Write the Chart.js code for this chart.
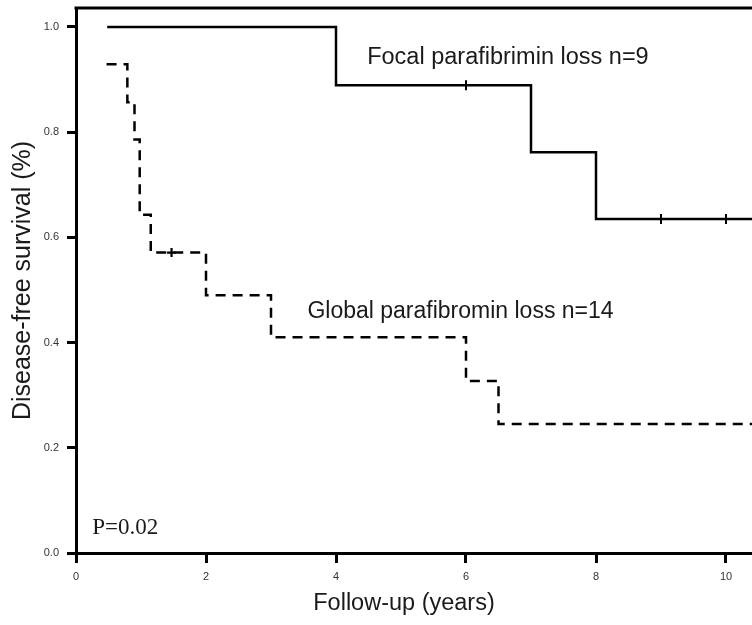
<!DOCTYPE html>
<html>
<head>
<meta charset="utf-8">
<title>Disease-free survival</title>
<script src="https://cdn.jsdelivr.net/npm/chart.js@4.4.1/dist/chart.umd.min.js"></script>
<style>
    html, body { margin: 0; padding: 0; background: #fff; }
    #wrap { width: 752px; height: 625px; }
</style>
</head>
<body>
<div id="wrap"><canvas id="kmChart" width="752" height="625"></canvas></div>
<script>
// Kaplan-Meier steps (years, survival fraction)
const focalTime = [0.48, 4, 7, 8, 10.4];
const focalSurv = [1.0, 0.889, 0.762, 0.635, 0.635];
const focalCensorTime = [6, 9, 10];
const focalCensorSurv = [0.889, 0.635, 0.635];

const globalTime = [0.47, 0.79, 0.9, 0.98, 1.15, 2.0, 3.0, 6.0, 6.5, 10.4];
const globalSurv = [0.929, 0.857, 0.786, 0.643, 0.571, 0.49, 0.41, 0.327, 0.245, 0.245];
const globalCensorTime = [1.47];
const globalCensorSurv = [0.571];

const xTicks = [0, 2, 4, 6, 8, 10];
const yTicks = [0, 0.2, 0.4, 0.6, 0.8, 1.0];

const focalLabel = 'Focal parafibrimin loss n=9';
const globalLabel = 'Global parafibromin loss n=14';
const pLabel = 'P=0.02';
const xTitle = 'Follow-up (years)';
const yTitle = 'Disease-free survival (%)';

const SANS = '"Liberation Sans", Arial, sans-serif';
const SERIF = '"Liberation Serif", "Times New Roman", serif';

function toPoints(xs, ys) {
    return xs.map((x, i) => ({ x: x, y: ys[i] }));
}

// top frame line, curve labels, P value and x title
const annotations = {
    id: 'annotations',
    afterDraw(chart) {
        const { ctx, chartArea, scales } = chart;
        const x = scales.x, y = scales.y;
        ctx.save();
        ctx.strokeStyle = '#000';
        ctx.lineWidth = 3;
        ctx.beginPath();
        ctx.moveTo(chartArea.left - 1.5, chartArea.top);
        ctx.lineTo(chartArea.right, chartArea.top);
        ctx.stroke();

        ctx.fillStyle = '#1a1a1a';
        ctx.textBaseline = 'alphabetic';
        ctx.textAlign = 'left';
        ctx.font = '23.5px ' + SANS;
        ctx.fillText(focalLabel, x.getPixelForValue(4.48), y.getPixelForValue(0.929));
        ctx.font = '23px ' + SANS;
        ctx.fillText(globalLabel, x.getPixelForValue(3.56), y.getPixelForValue(0.446));
        ctx.font = '23px ' + SERIF;
        ctx.fillText(pLabel, x.getPixelForValue(0.25), y.getPixelForValue(0.036));

        ctx.font = '23.5px ' + SANS;
        ctx.textAlign = 'center';
        ctx.textBaseline = 'middle';
        ctx.fillText(xTitle, 404, 604);
        ctx.restore();
    }
};

const ctx = document.getElementById('kmChart');
new Chart(ctx, {
    type: 'line',
    data: {
        datasets: [
            {
                label: 'Focal',
                data: toPoints(focalTime, focalSurv),
                stepped: true,
                borderColor: '#000',
                borderWidth: 2.5,
                pointRadius: 0,
                fill: false
            },
            {
                label: 'Global',
                data: toPoints(globalTime, globalSurv),
                stepped: true,
                borderColor: '#000',
                borderWidth: 2.5,
                borderDash: [10, 7],
                pointRadius: 0,
                fill: false
            },
            {
                label: 'Focal censored',
                type: 'scatter',
                data: toPoints(focalCensorTime, focalCensorSurv),
                pointStyle: 'line',
                rotation: 90,
                pointRadius: 5,
                borderColor: '#000',
                pointBorderWidth: 2,
                showLine: false
            },
            {
                label: 'Global censored',
                type: 'scatter',
                data: toPoints(globalCensorTime, globalCensorSurv),
                pointStyle: 'cross',
                pointRadius: 4.5,
                borderColor: '#000',
                pointBorderWidth: 2.2,
                showLine: false
            }
        ]
    },
    options: {
        responsive: false,
        animation: false,
        layout: { autoPadding: false, padding: { top: 8, right: 0, left: 0, bottom: 0 } },
        plugins: {
            legend: { display: false },
            tooltip: { enabled: false }
        },
        scales: {
            x: {
                type: 'linear',
                min: 0,
                max: 10.4,
                afterFit: s => {
                    s.height = 72;
                    s.paddingLeft = 0;
                    s.paddingRight = 0;
                },
                afterBuildTicks: s => { s.ticks = xTicks.map(v => ({ value: v })); },
                grid: { drawOnChartArea: false, tickLength: 10, tickWidth: 3, tickColor: '#000' },
                border: { display: true, width: 3, color: '#000' },
                ticks: {
                    padding: 7,
                    color: '#333',
                    font: { family: SANS, size: 11 },
                    maxRotation: 0,
                    callback: v => String(v)
                }
            },
            y: {
                type: 'linear',
                min: 0,
                max: 1.036,
                afterFit: s => {
                    s.width = 76;
                    s.paddingTop = 0;
                    s.paddingBottom = 0;
                },
                afterBuildTicks: s => { s.ticks = yTicks.map(v => ({ value: v })); },
                grid: { drawOnChartArea: false, tickLength: 9, tickWidth: 3, tickColor: '#000' },
                border: { display: true, width: 3, color: '#000' },
                ticks: {
                    padding: 8,
                    color: '#333',
                    font: { family: SANS, size: 11 },
                    callback: v => v.toFixed(1)
                },
                title: {
                    display: true,
                    text: yTitle,
                    color: '#1a1a1a',
                    font: { family: SANS, size: 25 },
                    padding: { top: 8, bottom: 0 }
                }
            }
        }
    },
    plugins: [annotations]
});
</script>
</body>
</html>
